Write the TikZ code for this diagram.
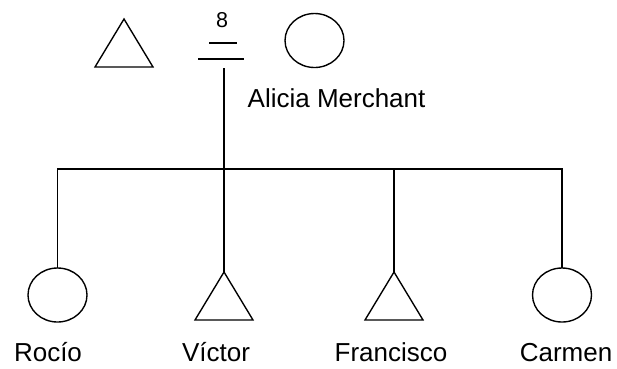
\documentclass[tikz,border=0pt]{standalone}
\usepackage{fontspec}
\setmainfont{Liberation Sans}
\usetikzlibrary{shapes.geometric}

\begin{document}
\begin{tikzpicture}[x=0.4pt,y=-0.4pt,line width=0.55pt]
      \tikzstyle{female}=[draw,ellipse,inner sep=0pt,outer sep=0pt,minimum width=23.6pt,minimum height=21.6pt]
      \tikzstyle{male}=[draw,isosceles triangle,shape border rotate=90,isosceles triangle stretches,inner sep=0pt,outer sep=0pt,minimum width=23.2pt,minimum height=19.2pt,anchor=apex]
      \tikzstyle{label}=[font=\fontsize{10.4}{12}\selectfont,anchor=base,inner sep=0pt]
      \useasboundingbox (0,0) rectangle (617,368);
      %%% parents
      \node (father) at (124,19) [male] {};
      \node (mother) at (314.5,40.5) [female] {};
      \node (ties) at (222,27) [font=\fontsize{8.6}{10}\selectfont,inner sep=0pt,anchor=base] {8};
      \draw (209,43) -- (237,43);
      \draw (198,59) -- (244,59);
      \coordinate (union) at (224,68);
      \coordinate (sibs) at (224,169);
      \node (alicia) at (247,107) [label,anchor=base west] {Alicia Merchant};
      %%% children
      \node (rocio) at (57.5,268) [female,anchor=north] {};
      \node (victor) at (224,272) [male] {};
      \node (francisco) at (394,272) [male] {};
      \node (carmen) at (562,268) [female,anchor=north] {};
      \draw (union) -- (victor.apex);
      \draw (rocio.north) -- (rocio.north |- sibs) -- (carmen.north |- sibs) -- (carmen.north);
      \draw (francisco.apex) -- (francisco.apex |- sibs);
      %%% names
      \node (rocio-name) at (48,361) [label] {Rocío};
      \node (victor-name) at (216,361) [label] {Víctor};
      \node (francisco-name) at (391,361) [label] {Francisco};
      \node (carmen-name) at (566,361) [label] {Carmen};
\end{tikzpicture}
\end{document}
